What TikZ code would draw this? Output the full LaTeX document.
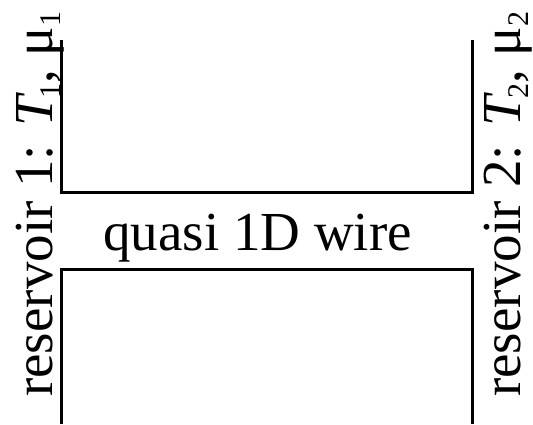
\documentclass[tikz,border=0pt]{standalone}
\usepackage{fontspec}
\setmainfont{Liberation Serif}
\newcommand{\lowidx}[1]{\raisebox{-8pt}{\fontsize{30}{30}\selectfont #1}}
\begin{document}
\begin{tikzpicture}[x=1pt,y=1pt,
  wall/.style={line width=3pt},
  lbl/.style={inner sep=0pt,font=\fontsize{55}{66}\selectfont}]
\useasboundingbox (0,0) rectangle (533,424);
\node[lbl,rotate=90,anchor=base west] (res1) at (52,27) {reservoir 1: {\itshape T}\kern-0.05em\lowidx{1}, μ\lowidx{1}};
\node[lbl,rotate=90,anchor=base west] (res2) at (520,27) {reservoir 2: {\itshape T}\kern-0.05em\lowidx{2}, μ\lowidx{2}};
\node[lbl,anchor=base] (wire) at (257.5,174) {quasi 1D wire};
\draw[wall] (61,384) -- (61,232) -- (472,232) -- (472,384);
\draw[wall] (61,0) -- (61,155) -- (472,155) -- (472,0);
\end{tikzpicture}
\end{document}
